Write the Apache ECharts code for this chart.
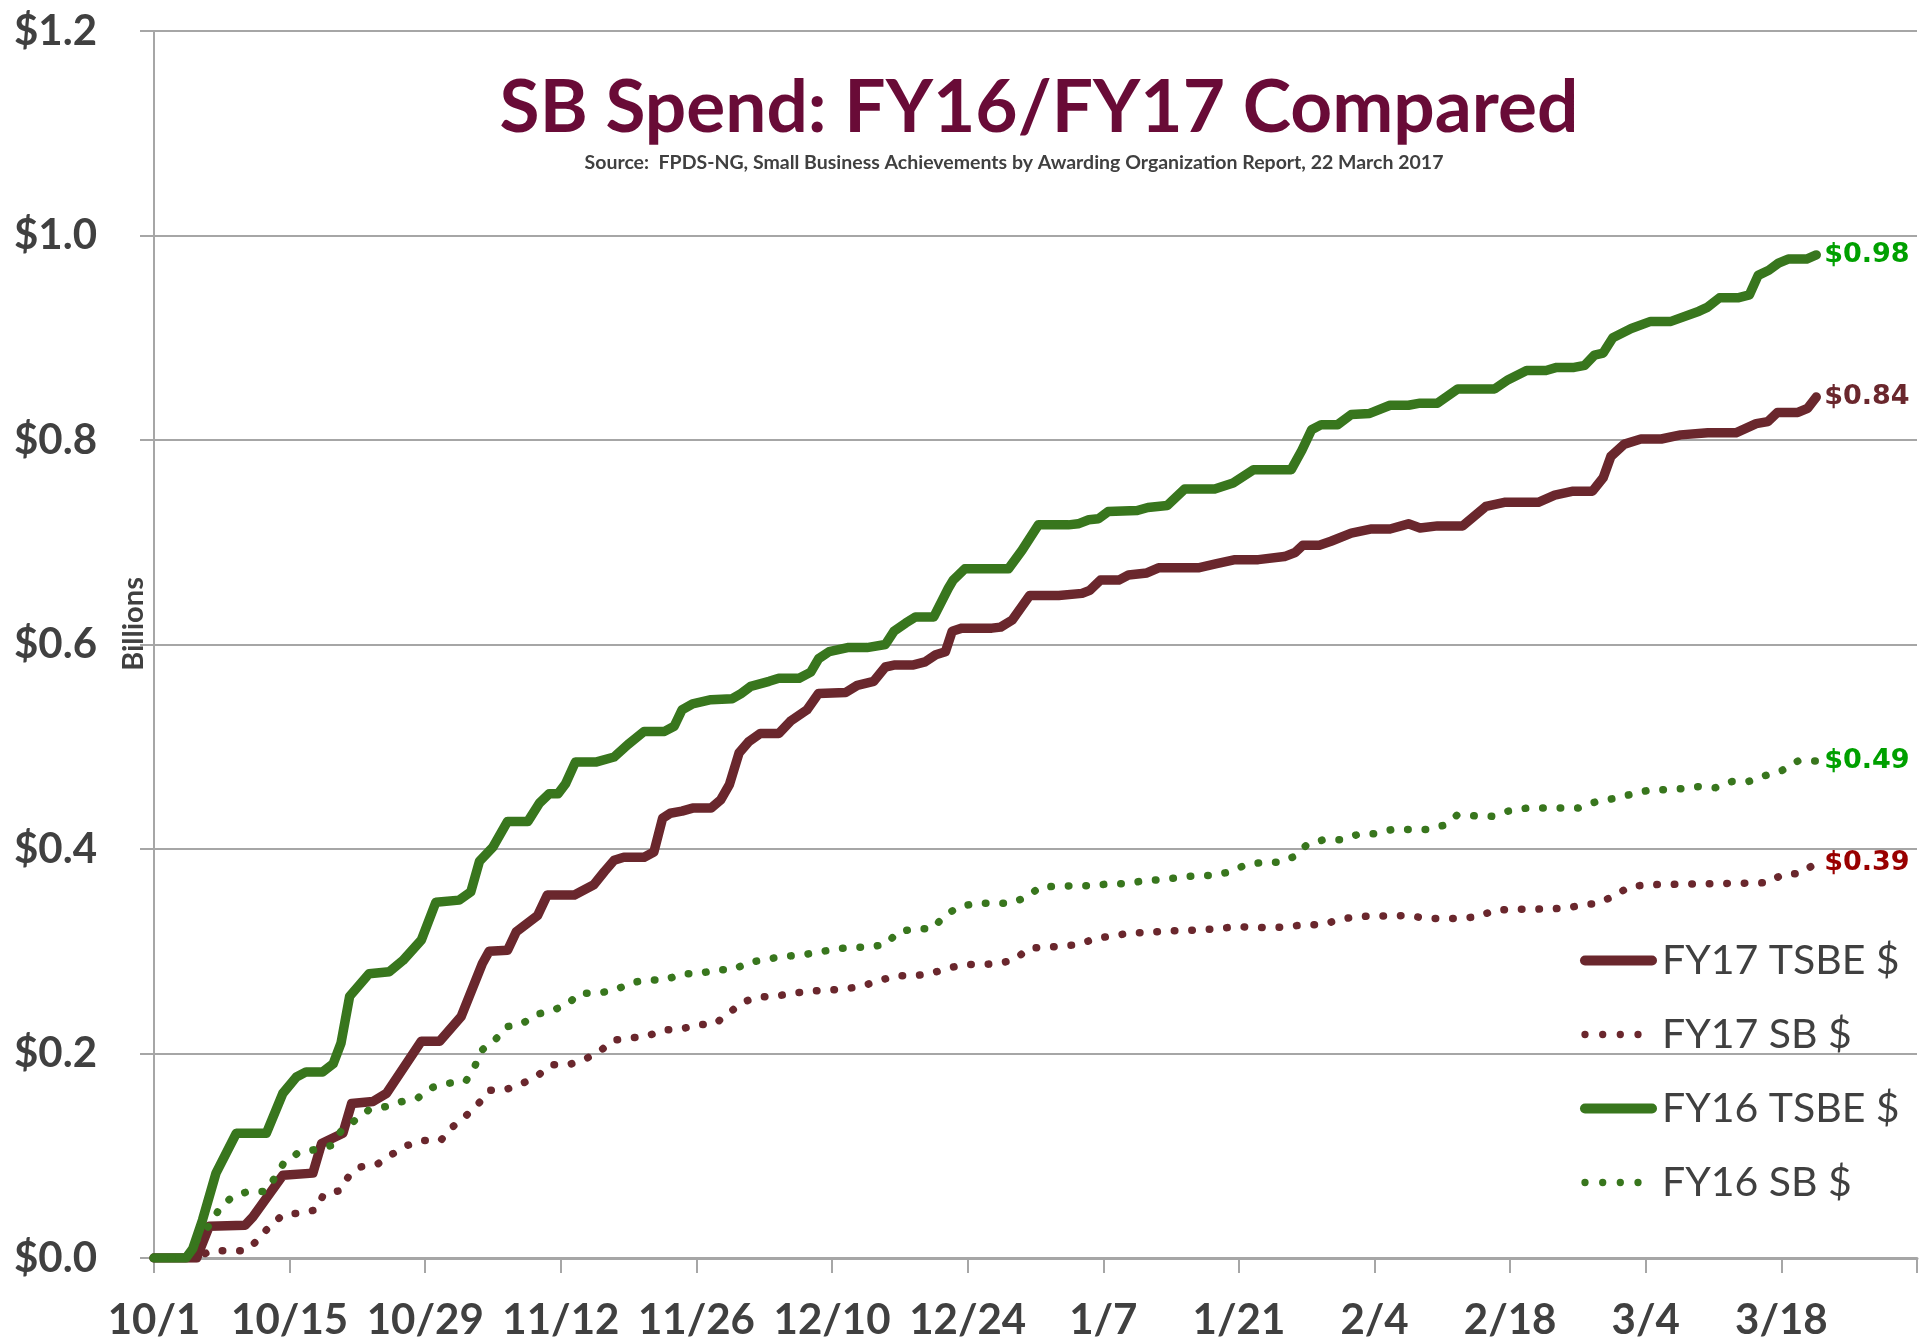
<!DOCTYPE html>
<html>
<head>
<meta charset="utf-8">
<title>SB Spend: FY16/FY17 Compared</title>
<script src="https://cdn.jsdelivr.net/npm/echarts@6/dist/echarts.min.js"></script>
<style>
  html, body { margin: 0; padding: 0; background: #fff; }
  #chart { width: 1920px; height: 1343px; }
</style>
</head>
<body>
<div id="chart"></div>
<script>
// x values are days counted from 10/1 (day 0), y values are billions of dollars
var xTickLabels = ['10/1', '10/15', '10/29', '11/12', '11/26', '12/10', '12/24', '1/7', '1/21', '2/4', '2/18', '3/4', '3/18', ''];
var yTickLabels = ['$0.0', '$0.2', '$0.4', '$0.6', '$0.8', '$1.0', '$1.2'];

var fy17TsbeDays = [0, 4.4, 5.7, 9.4, 10.2, 13.3, 16.4, 17.3, 19.5, 20.4, 22.6, 24, 27.6, 29.5, 31.7, 33.9, 34.6, 36.5, 37.4, 39.6,
  40.6, 43.4, 45.4, 46.5, 47.5, 48.5, 50.6, 51.6, 52.5, 53.3, 54.5, 55.6, 57.5, 58.5, 59.4, 60.4, 61.4, 62.6, 64.5, 65.7,
  67.4, 68.6, 71.4, 72.6, 74.3, 75.5, 76.5, 78.4, 79.6, 80.7, 81.7, 82.4, 83.4, 86.5, 87.4, 88.6, 90.4, 93.4, 95.8, 96.6,
  97.7, 99.6, 100.6, 102.5, 103.7, 107.8, 109.7, 111.6, 114, 116.7, 117.8, 118.6, 120.3, 121.5, 123.6, 125.7, 127.6, 129.5, 130.7, 132.5,
  135.1, 137.5, 139.4, 142.9, 144.6, 146.5, 148.5, 149.6, 150.4, 151.8, 153.5, 155.6, 157.6, 160.4, 163.3, 165.4, 166.6, 167.6, 169.7, 170.7, 171.6];
var fy17TsbeValues = [0, 0, 0.031, 0.032, 0.04, 0.081, 0.083, 0.112, 0.122, 0.151, 0.153, 0.161, 0.212, 0.212, 0.236, 0.288, 0.3, 0.301, 0.319, 0.335,
  0.355, 0.355, 0.365, 0.378, 0.389, 0.392, 0.392, 0.397, 0.43, 0.435, 0.437, 0.44, 0.44, 0.448, 0.463, 0.494, 0.505, 0.513, 0.513, 0.525,
  0.536, 0.552, 0.553, 0.56, 0.564, 0.578, 0.58, 0.58, 0.583, 0.59, 0.593, 0.613, 0.616, 0.616, 0.617, 0.624, 0.648, 0.648, 0.65, 0.653,
  0.663, 0.663, 0.668, 0.67, 0.675, 0.675, 0.679, 0.683, 0.683, 0.686, 0.69, 0.697, 0.697, 0.701, 0.709, 0.713, 0.713, 0.718, 0.714, 0.716,
  0.716, 0.735, 0.739, 0.739, 0.746, 0.75, 0.75, 0.763, 0.784, 0.796, 0.801, 0.801, 0.805, 0.807, 0.807, 0.816, 0.818, 0.827, 0.827, 0.831, 0.842];

var fy17SbDays = [0, 4.4, 5.8, 9.4, 10.8, 11.9, 13.3, 15, 16.7, 17.5, 19.2, 20.1, 21.3, 23.1, 24.5, 26.1, 27.8, 29.6, 30.8, 32.2,
  33.5, 34.6, 36.4, 38.1, 39.7, 41, 42.8, 44.4, 46, 47.4, 49.1, 50.9, 52.6, 54.4, 56.1, 57.9, 59.3, 60.7, 62.3, 64.1,
  66, 67.8, 71.3, 73.1, 74.8, 76.5, 78.3, 80.1, 81.8, 83.6, 85.4, 87.2, 88.9, 90.3, 93.9, 95.6, 97.3, 99.1, 100.8, 102.6,
  104.4, 106.2, 108, 109.8, 111.6, 115.2, 117, 118.8, 120.6, 122.4, 124.2, 129.6, 131.3, 134.9, 136.7, 138.4, 140.1, 142, 145.6, 147.4,
  149.1, 150.7, 152.3, 154.1, 166.6, 168.1, 169.9, 171.6];
var fy17SbValues = [0, 0, 0.007, 0.007, 0.018, 0.031, 0.042, 0.044, 0.047, 0.062, 0.066, 0.08, 0.089, 0.092, 0.101, 0.11, 0.115, 0.115, 0.128, 0.139,
  0.151, 0.164, 0.165, 0.171, 0.179, 0.189, 0.189, 0.194, 0.202, 0.213, 0.215, 0.217, 0.223, 0.224, 0.228, 0.229, 0.239, 0.25, 0.255, 0.256,
  0.259, 0.261, 0.263, 0.266, 0.271, 0.276, 0.276, 0.278, 0.283, 0.287, 0.287, 0.288, 0.292, 0.303, 0.305, 0.307, 0.313, 0.315, 0.318, 0.318,
  0.32, 0.32, 0.321, 0.322, 0.324, 0.323, 0.324, 0.326, 0.326, 0.331, 0.334, 0.335, 0.332, 0.332, 0.334, 0.34, 0.341, 0.341, 0.342, 0.345,
  0.347, 0.354, 0.363, 0.365, 0.367, 0.375, 0.376, 0.386];

var fy16TsbeDays = [0, 3.3, 4, 5, 6.4, 8.5, 11.6, 13.3, 14.7, 15.7, 17.4, 18.5, 19.3, 20.2, 22.2, 24.3, 25.7, 27.6, 29.1, 31.5,
  32.7, 33.6, 35, 36.5, 38.6, 39.8, 40.8, 41.7, 42.5, 43.5, 45.6, 47.5, 48.9, 50.6, 52.7, 53.7, 54.5, 55.6, 57.5, 59.7,
  60.6, 61.6, 63.5, 64.5, 66.6, 67.8, 68.6, 69.7, 71.6, 73.6, 75.5, 76.4, 77.6, 78.6, 80.5, 82, 82.5, 83.7, 88.2, 89.6,
  91.3, 94.4, 95.4, 96.5, 97.5, 98.5, 101.5, 102.6, 104.6, 106.4, 109.5, 111.4, 113.5, 117.4, 118.5, 119.5, 120.5, 122.2, 123.6, 125.5,
  127.6, 129.5, 130.7, 132.5, 134.6, 138.4, 139.8, 141.7, 143.7, 144.8, 146.6, 147.7, 148.7, 149.6, 150.6, 152.5, 154.5, 156.6, 159.5, 160.4,
  161.6, 163.5, 164.7, 165.6, 166.7, 167.7, 168.7, 170.6, 171.6];
var fy16TsbeValues = [0, 0, 0.009, 0.037, 0.083, 0.122, 0.122, 0.161, 0.177, 0.182, 0.182, 0.19, 0.21, 0.256, 0.278, 0.28, 0.291, 0.311, 0.348, 0.35,
  0.358, 0.388, 0.402, 0.427, 0.427, 0.445, 0.454, 0.454, 0.464, 0.485, 0.485, 0.49, 0.502, 0.515, 0.515, 0.52, 0.536, 0.542, 0.546, 0.547,
  0.552, 0.559, 0.564, 0.567, 0.567, 0.573, 0.586, 0.593, 0.597, 0.597, 0.6, 0.613, 0.621, 0.627, 0.627, 0.655, 0.663, 0.674, 0.674, 0.692,
  0.717, 0.717, 0.718, 0.722, 0.723, 0.73, 0.731, 0.734, 0.736, 0.752, 0.752, 0.758, 0.771, 0.771, 0.79, 0.81, 0.815, 0.815, 0.825, 0.826,
  0.834, 0.834, 0.836, 0.836, 0.85, 0.85, 0.859, 0.868, 0.868, 0.871, 0.871, 0.873, 0.883, 0.885, 0.9, 0.909, 0.916, 0.916, 0.926, 0.93,
  0.939, 0.939, 0.942, 0.961, 0.966, 0.973, 0.977, 0.977, 0.981];

var fy16SbDays = [0, 3.3, 4.6, 5.9, 6.8, 8.1, 9.7, 11.5, 12.5, 13.4, 14.9, 16.6, 18.3, 19.3, 20.8, 22.2, 23.9, 25.6, 27.3, 28.8,
  30.5, 32.2, 33.1, 33.8, 35.2, 36.3, 38, 39.4, 41.1, 42.7, 43.9, 45.8, 47.6, 49.2, 50.9, 52.8, 54.5, 56.3, 58, 59.8,
  61.4, 63.2, 64.9, 66.7, 68.5, 70.3, 72.1, 73.9, 75.6, 76.8, 78.6, 80.4, 81.5, 83, 84.8, 88.4, 90.1, 91.5, 95, 96.8,
  98.6, 100.4, 102.2, 104, 105.8, 107.6, 109.4, 111.2, 112.8, 114.6, 116.3, 117.8, 119, 120.7, 122.6, 124.2, 126, 127.8, 131.4, 133.1,
  134.5, 138.1, 139.8, 141.7, 147, 148.8, 150.5, 152.3, 154.1, 155.9, 157.7, 159.4, 161.2, 162.9, 164.6, 166.4, 168.1, 169.7, 171.6];
var fy16SbValues = [0, 0, 0.02, 0.034, 0.049, 0.06, 0.065, 0.065, 0.079, 0.093, 0.103, 0.106, 0.11, 0.124, 0.135, 0.145, 0.148, 0.153, 0.157, 0.167,
  0.171, 0.173, 0.187, 0.203, 0.213, 0.226, 0.229, 0.238, 0.242, 0.248, 0.259, 0.259, 0.262, 0.269, 0.272, 0.272, 0.278, 0.278, 0.282, 0.282,
  0.289, 0.292, 0.295, 0.296, 0.299, 0.302, 0.304, 0.304, 0.307, 0.319, 0.322, 0.322, 0.334, 0.343, 0.347, 0.347, 0.353, 0.363, 0.364, 0.364,
  0.366, 0.366, 0.369, 0.37, 0.372, 0.374, 0.374, 0.378, 0.385, 0.387, 0.387, 0.393, 0.404, 0.409, 0.409, 0.414, 0.415, 0.419, 0.419, 0.423,
  0.433, 0.432, 0.437, 0.44, 0.44, 0.446, 0.449, 0.453, 0.457, 0.458, 0.459, 0.461, 0.46, 0.466, 0.466, 0.472, 0.477, 0.486, 0.486];

var maroon = '#6A272D';
var green = '#38761D';
var axisGray = '#A6A6A6';
var textGray = '#404040';

// legend samples: a thick rounded bar and a row of four dots, both in a 77x10 box
var solidIcon = 'path://M5,0H72A5,5 0 0 1 72,10H5A5,5 0 0 1 5,0Z';
var dotIcon = 'path://M0,0L0,0M77,10L77,10' +
  'M1.35,5a3.65,3.65 0 1 0 7.3,0a3.65,3.65 0 1 0 -7.3,0Z' +
  'M19.05,5a3.65,3.65 0 1 0 7.3,0a3.65,3.65 0 1 0 -7.3,0Z' +
  'M36.65,5a3.65,3.65 0 1 0 7.3,0a3.65,3.65 0 1 0 -7.3,0Z' +
  'M54.35,5a3.65,3.65 0 1 0 7.3,0a3.65,3.65 0 1 0 -7.3,0Z';

function pairs(days, values) {
  return days.map(function (d, i) { return [d, values[i]]; });
}

function makeSeries(name, days, values, color, dotted, labelColor) {
  return {
    name: name,
    type: 'line',
    data: pairs(days, values),
    symbol: 'none',
    smooth: false,
    lineStyle: dotted
      ? { color: color, width: 7.5, type: [0.5, 17], cap: 'round', join: 'round' }
      : { color: color, width: 9.5, cap: 'round', join: 'round' },
    itemStyle: { color: color },
    endLabel: {
      show: true,
      distance: 8,
      formatter: function (p) { return '$' + p.value[1].toFixed(2); },
      color: labelColor,
      fontFamily: 'DejaVu Sans',
      fontWeight: 'bold',
      fontSize: 27
    }
  };
}

var chart = echarts.init(document.getElementById('chart'));
var option = {
  animation: false,
  backgroundColor: '#fff',
  grid: { left: 154, right: 0, top: 31, bottom: 85 },
  graphic: [
    {
      type: 'text', x: 1039, y: 108,
      style: {
        text: 'SB Spend: FY16/FY17 Compared',
        font: 'bold 73px Lato',
        fill: '#690B37',
        align: 'center',
        verticalAlign: 'middle'
      }
    },
    {
      type: 'text', x: 1014, y: 163,
      style: {
        text: 'Source:  FPDS-NG, Small Business Achievements by Awarding Organization Report, 22 March 2017',
        font: 'bold 19.5px Lato',
        fill: textGray,
        align: 'center',
        verticalAlign: 'middle'
      }
    },
    {
      type: 'text', x: 134, y: 624, rotation: Math.PI / 2,
      style: {
        text: 'Billions',
        font: 'bold 29px Lato',
        fill: textGray,
        align: 'center',
        verticalAlign: 'middle'
      }
    }
  ],
  legend: {
    orient: 'vertical',
    left: 1580,
    top: 940,
    padding: 0,
    itemWidth: 77,
    itemHeight: 10,
    itemGap: 33,
    symbolKeepAspect: false,
    itemStyle: { borderWidth: 0 },
    textStyle: { fontFamily: 'Lato', fontSize: 41, color: textGray },
    data: [
      { name: 'FY17 TSBE $', icon: solidIcon },
      { name: 'FY17 SB $', icon: dotIcon },
      { name: 'FY16 TSBE $', icon: solidIcon },
      { name: 'FY16 SB $', icon: dotIcon }
    ]
  },
  xAxis: {
    type: 'value',
    min: 0,
    max: 182,
    interval: 14,
    axisLine: { show: true, lineStyle: { color: axisGray, width: 3 } },
    axisTick: { show: true, length: 15, lineStyle: { color: axisGray, width: 2 } },
    splitLine: { show: false },
    axisLabel: {
      margin: 41,
      fontFamily: 'Lato',
      fontWeight: 'bold',
      fontSize: 42,
      color: textGray,
      formatter: function (v) { return xTickLabels[Math.round(v / 14)]; }
    }
  },
  yAxis: {
    type: 'value',
    min: 0,
    max: 1.2,
    interval: 0.2,
    axisLine: { show: true, lineStyle: { color: axisGray, width: 2 } },
    axisTick: { show: true, length: 14, lineStyle: { color: axisGray, width: 2 } },
    splitLine: { show: true, lineStyle: { color: axisGray, width: 2 } },
    axisLabel: {
      margin: 57,
      fontFamily: 'Lato',
      fontWeight: 'bold',
      fontSize: 42,
      color: textGray,
      formatter: function (v) { return yTickLabels[Math.round(v / 0.2)]; }
    }
  },
  series: [
    makeSeries('FY17 TSBE $', fy17TsbeDays, fy17TsbeValues, maroon, false, '#6A272D'),
    makeSeries('FY17 SB $', fy17SbDays, fy17SbValues, maroon, true, '#990000'),
    makeSeries('FY16 TSBE $', fy16TsbeDays, fy16TsbeValues, green, false, '#00A000'),
    makeSeries('FY16 SB $', fy16SbDays, fy16SbValues, green, true, '#00A000')
  ]
};
chart.setOption(option);
</script>
</body>
</html>
